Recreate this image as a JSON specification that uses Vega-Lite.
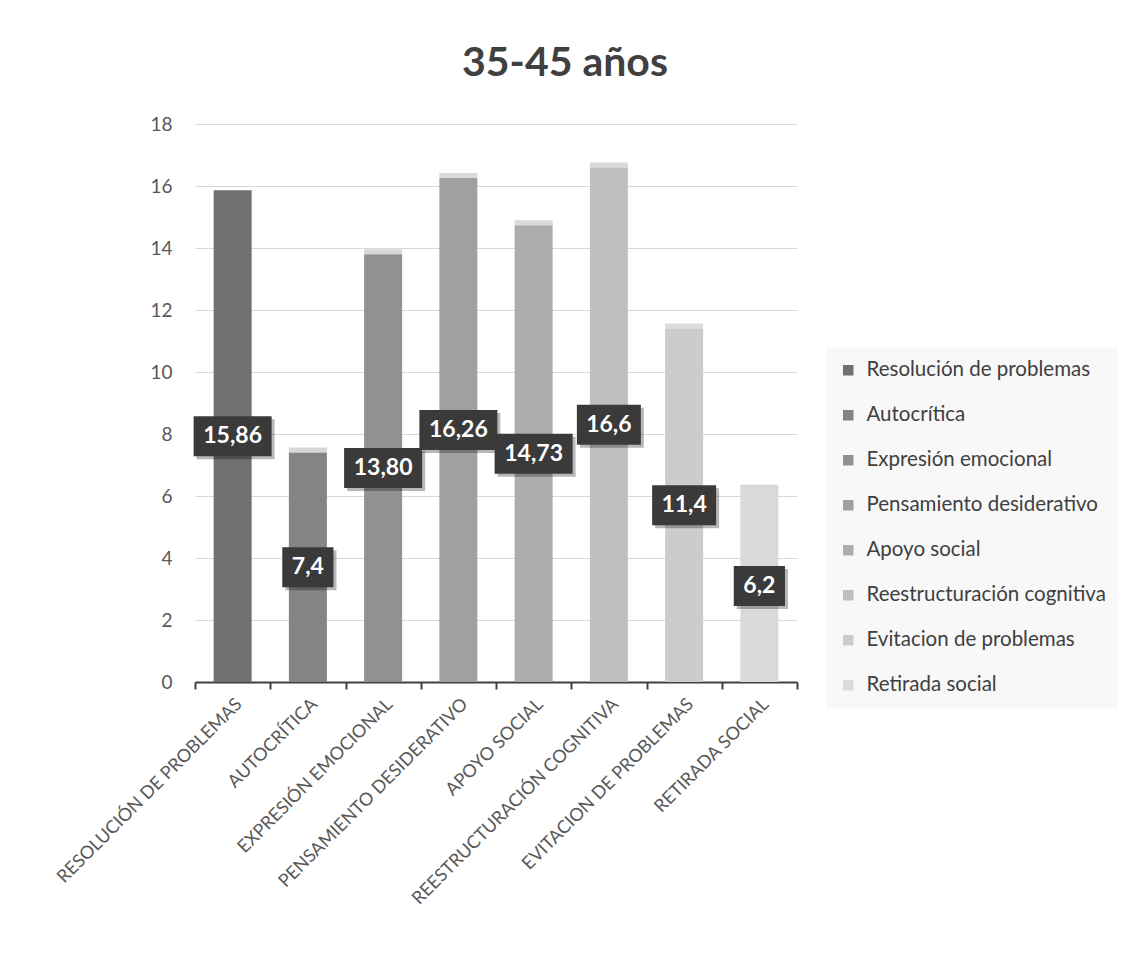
{
  "$schema": "https://vega.github.io/schema/vega-lite/v6.json",
  "width": 602,
  "height": 558,
  "autosize": "none",
  "padding": {"left": 195, "top": 124, "right": 333, "bottom": 274},
  "background": "white",
  "config": {"view": {"stroke": null}, "font": "Lato"},
  "title": {
    "text": "35-45 años",
    "fontSize": 41,
    "fontWeight": "bold",
    "color": "#404040",
    "anchor": "middle",
    "frame": "group",
    "dx": 69,
    "offset": 30
  },
  "data": {
    "values": [
      {"categoria": "RESOLUCIÓN DE PROBLEMAS", "serie": "Resolución de problemas", "valor": 15.86, "etiqueta": "15,86"},
      {"categoria": "AUTOCRÍTICA", "serie": "Autocrítica", "valor": 7.4, "etiqueta": "7,4"},
      {"categoria": "EXPRESIÓN EMOCIONAL", "serie": "Expresión emocional", "valor": 13.8, "etiqueta": "13,80"},
      {"categoria": "PENSAMIENTO DESIDERATIVO", "serie": "Pensamiento desiderativo", "valor": 16.26, "etiqueta": "16,26"},
      {"categoria": "APOYO SOCIAL", "serie": "Apoyo social", "valor": 14.73, "etiqueta": "14,73"},
      {"categoria": "REESTRUCTURACIÓN COGNITIVA", "serie": "Reestructuración cognitiva", "valor": 16.6, "etiqueta": "16,6"},
      {"categoria": "EVITACION DE PROBLEMAS", "serie": "Evitacion de problemas", "valor": 11.4, "etiqueta": "11,4"},
      {"categoria": "RETIRADA SOCIAL", "serie": "Retirada social", "valor": 6.2, "etiqueta": "6,2"}
    ]
  },
  "encoding": {
    "x": {
      "field": "categoria",
      "type": "nominal",
      "sort": null,
      "scale": {"paddingInner": 0, "paddingOuter": 0},
      "axis": {
        "title": null,
        "labelAngle": -45,
        "labelFontSize": 18,
        "labelColor": "#595959",
        "labelPadding": 6,
        "labelLimit": 400,
        "domainColor": "#404040",
        "domainWidth": 2,
        "tickBand": "extent",
        "tickColor": "#404040",
        "tickWidth": 2,
        "tickSize": 7,
        "grid": false
      }
    }
  },
  "layer": [
    {
      "mark": {"type": "bar", "width": 38},
      "encoding": {
        "y": {
          "field": "valor",
          "type": "quantitative",
          "scale": {"domain": [0, 18], "nice": false},
          "axis": {
            "title": null,
            "values": [0, 2, 4, 6, 8, 10, 12, 14, 16, 18],
            "labelFontSize": 19,
            "labelColor": "#595959",
            "labelPadding": 23,
            "domain": false,
            "ticks": false,
            "gridColor": "#d9d9d9",
            "gridWidth": 1
          }
        },
        "color": {
          "field": "serie",
          "type": "nominal",
          "scale": {
            "domain": ["Resolución de problemas", "Autocrítica", "Expresión emocional", "Pensamiento desiderativo", "Apoyo social", "Reestructuración cognitiva", "Evitacion de problemas", "Retirada social"],
            "range": ["#717171", "#848484", "#919191", "#a0a0a0", "#adadad", "#bfbfbf", "#cccccc", "#dadada"]
          },
          "legend": {
            "title": null,
            "orient": "none",
            "legendX": 631,
            "legendY": 224,
            "fillColor": "#f8f8f8",
            "padding": 12,
            "symbolType": "square",
            "symbolSize": 110,
            "symbolStrokeWidth": 0,
            "labelFontSize": 20.5,
            "labelColor": "#404040",
            "labelOffset": 8,
            "rowPadding": 24,
            "labelLimit": 400
          }
        }
      }
    },
    {
      "mark": {"type": "tick", "orient": "horizontal", "thickness": 5, "size": 38, "yOffset": -2.5},
      "encoding": {
        "y": {"field": "valor", "type": "quantitative", "scale": {"domain": [0, 18], "nice": false}, "axis": null},
        "color": {
          "field": "categoria",
          "type": "nominal",
          "sort": null,
          "scale": {
            "domain": ["RESOLUCIÓN DE PROBLEMAS", "AUTOCRÍTICA", "EXPRESIÓN EMOCIONAL", "PENSAMIENTO DESIDERATIVO", "APOYO SOCIAL", "REESTRUCTURACIÓN COGNITIVA", "EVITACION DE PROBLEMAS", "RETIRADA SOCIAL"],
            "range": ["transparent", "#c6c6c6", "#c8c8c8", "#cbcbcb", "#cbcbcb", "#cacaca", "#cccccc", "#c6c6c6"]
          },
          "legend": null
        }
      }
    },
    {
      "mark": {"type": "point", "filled": true, "opacity": 0.28, "strokeWidth": 0, "xOffset": 3, "yOffset": 3, "color": "#000000"},
      "encoding": {
        "y": {"field": "valor", "type": "quantitative", "scale": {"domain": [0, 36], "nice": false}, "axis": null},
        "shape": {
          "field": "categoria",
          "type": "nominal",
          "sort": null,
          "scale": {
            "domain": ["RESOLUCIÓN DE PROBLEMAS", "AUTOCRÍTICA", "EXPRESIÓN EMOCIONAL", "PENSAMIENTO DESIDERATIVO", "APOYO SOCIAL", "REESTRUCTURACIÓN COGNITIVA", "EVITACION DE PROBLEMAS", "RETIRADA SOCIAL"],
            "range": ["M-0.975,-0.5H0.975V0.5H-0.975Z", "M-0.64,-0.5H0.64V0.5H-0.64Z", "M-0.975,-0.5H0.975V0.5H-0.975Z", "M-0.975,-0.5H0.975V0.5H-0.975Z", "M-0.975,-0.5H0.975V0.5H-0.975Z", "M-0.8,-0.5H0.8V0.5H-0.8Z", "M-0.8,-0.5H0.8V0.5H-0.8Z", "M-0.64,-0.5H0.64V0.5H-0.64Z"]
          },
          "legend": null
        },
        "size": {"value": 6400}
      }
    },
    {
      "mark": {"type": "point", "filled": true, "opacity": 1, "strokeWidth": 0, "color": "#3a3a3a"},
      "encoding": {
        "y": {"field": "valor", "type": "quantitative", "scale": {"domain": [0, 36], "nice": false}, "axis": null},
        "shape": {
          "field": "categoria",
          "type": "nominal",
          "sort": null,
          "scale": {
            "domain": ["RESOLUCIÓN DE PROBLEMAS", "AUTOCRÍTICA", "EXPRESIÓN EMOCIONAL", "PENSAMIENTO DESIDERATIVO", "APOYO SOCIAL", "REESTRUCTURACIÓN COGNITIVA", "EVITACION DE PROBLEMAS", "RETIRADA SOCIAL"],
            "range": ["M-0.975,-0.5H0.975V0.5H-0.975Z", "M-0.64,-0.5H0.64V0.5H-0.64Z", "M-0.975,-0.5H0.975V0.5H-0.975Z", "M-0.975,-0.5H0.975V0.5H-0.975Z", "M-0.975,-0.5H0.975V0.5H-0.975Z", "M-0.8,-0.5H0.8V0.5H-0.8Z", "M-0.8,-0.5H0.8V0.5H-0.8Z", "M-0.64,-0.5H0.64V0.5H-0.64Z"]
          },
          "legend": null
        },
        "size": {"value": 6400}
      }
    },
    {
      "mark": {"type": "text", "color": "white", "fontSize": 23, "fontWeight": "bold", "baseline": "middle", "align": "center"},
      "encoding": {
        "y": {"field": "valor", "type": "quantitative", "scale": {"domain": [0, 36], "nice": false}, "axis": null},
        "text": {"field": "etiqueta", "type": "nominal"}
      }
    }
  ],
  "resolve": {"scale": {"y": "independent", "color": "independent", "shape": "independent"}}
}
